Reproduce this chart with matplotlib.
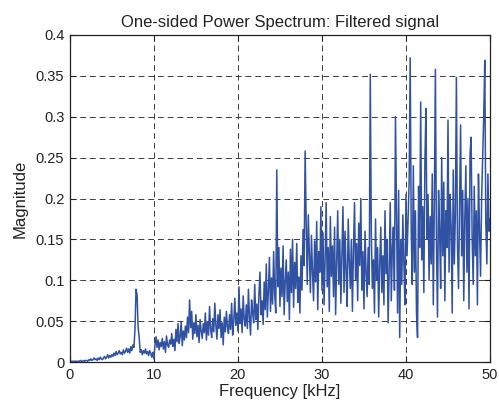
import numpy as np
import matplotlib
matplotlib.use("Agg")
import matplotlib.pyplot as plt

plt.rcParams['font.family'] = ['Liberation Sans', 'DejaVu Sans']

# frequency step (kHz) of the hand-read spectrum, 8 values per kHz
step_khz = 0.125

# magnitude values, one row per kHz
magnitude = [
    0.001, 0.001, 0.001, 0.001, 0.001, 0.001, 0.001, 0.001,
    0.001, 0.001, 0.002, 0.001, 0.001, 0.002, 0.001, 0.002,
    0.002, 0.001, 0.003, 0.002, 0.004, 0.002, 0.003, 0.005,
    0.003, 0.004, 0.002, 0.005, 0.003, 0.006, 0.004, 0.003,
    0.005, 0.007, 0.004, 0.006, 0.009, 0.005, 0.008, 0.006,
    0.009, 0.007, 0.011, 0.008, 0.013, 0.009, 0.011, 0.014,
    0.010, 0.012, 0.009, 0.015, 0.011, 0.013, 0.017, 0.012,
    0.016, 0.011, 0.019, 0.014, 0.021, 0.018, 0.040, 0.089,
    0.082, 0.042, 0.030, 0.012, 0.015, 0.009, 0.014, 0.011,
    0.016, 0.010, 0.013, 0.008, 0.014, 0.011, 0.006, 0.012,
    0.004, 0.020, 0.031, 0.018, 0.027, 0.015, 0.024, 0.019,
    0.029, 0.016, 0.025, 0.012, 0.032, 0.021, 0.018, 0.027,
    0.022, 0.035, 0.019, 0.028, 0.014, 0.040, 0.025, 0.047,
    0.023, 0.031, 0.049, 0.020, 0.038, 0.027, 0.044, 0.030,
    0.055, 0.036, 0.076, 0.042, 0.062, 0.028, 0.048, 0.035,
    0.058, 0.031, 0.045, 0.024, 0.052, 0.038, 0.029, 0.047,
    0.036, 0.060, 0.027, 0.049, 0.033, 0.068, 0.040, 0.030,
    0.053, 0.037, 0.072, 0.045, 0.028, 0.058, 0.041, 0.064,
    0.030, 0.048, 0.021, 0.055, 0.037, 0.062, 0.043, 0.035,
    0.058, 0.040, 0.072, 0.033, 0.050, 0.078, 0.045, 0.060,
    0.038, 0.092, 0.047, 0.065, 0.036, 0.081, 0.052, 0.044,
    0.070, 0.041, 0.089, 0.055, 0.033, 0.076, 0.060, 0.048,
    0.095, 0.052, 0.071, 0.040, 0.083, 0.110, 0.058, 0.075,
    0.046, 0.098, 0.064, 0.120, 0.055, 0.087, 0.128, 0.062,
    0.103, 0.071, 0.135, 0.084, 0.060, 0.235, 0.092, 0.140,
    0.068, 0.115, 0.080, 0.142, 0.058, 0.097, 0.125, 0.074,
    0.110, 0.052, 0.138, 0.085, 0.150, 0.067, 0.122, 0.090,
    0.145, 0.073, 0.104, 0.060, 0.130, 0.088, 0.162, 0.118,
    0.258, 0.170, 0.095, 0.180, 0.132, 0.085, 0.155, 0.110,
    0.075, 0.148, 0.098, 0.172, 0.064, 0.135, 0.110, 0.190,
    0.088, 0.158, 0.070, 0.125, 0.195, 0.092, 0.140, 0.062,
    0.178, 0.105, 0.142, 0.080, 0.165, 0.058, 0.120, 0.185,
    0.095, 0.150, 0.072, 0.132, 0.190, 0.085, 0.160, 0.110,
    0.068, 0.175, 0.125, 0.090, 0.150, 0.062, 0.138, 0.195,
    0.100, 0.145, 0.075, 0.170, 0.118, 0.200, 0.088, 0.135,
    0.065, 0.160, 0.110, 0.080, 0.140, 0.095, 0.352, 0.155,
    0.090, 0.125, 0.060, 0.175, 0.100, 0.140, 0.055, 0.120,
    0.165, 0.085, 0.130, 0.070, 0.185, 0.108, 0.150, 0.048,
    0.112, 0.195, 0.075, 0.140, 0.165, 0.088, 0.300, 0.180,
    0.060, 0.210, 0.030, 0.150, 0.095, 0.180, 0.120, 0.070,
    0.205, 0.130, 0.175, 0.220, 0.372, 0.160, 0.095, 0.240,
    0.110, 0.185, 0.060, 0.030, 0.215, 0.140, 0.318, 0.125,
    0.190, 0.085, 0.245, 0.310, 0.150, 0.205, 0.100, 0.178,
    0.120, 0.230, 0.070, 0.195, 0.358, 0.145, 0.055, 0.210,
    0.160, 0.090, 0.250, 0.130, 0.220, 0.075, 0.185, 0.140,
    0.296, 0.110, 0.205, 0.165, 0.060, 0.235, 0.120, 0.180,
    0.348, 0.145, 0.090, 0.195, 0.290, 0.130, 0.210, 0.075,
    0.175, 0.240, 0.110, 0.200, 0.065, 0.255, 0.275, 0.150,
    0.095, 0.215, 0.130, 0.185, 0.070, 0.230, 0.160, 0.105,
    0.200, 0.250, 0.300, 0.369, 0.170, 0.120, 0.230, 0.160,
    0.175,
]

freq_khz = np.arange(len(magnitude)) * step_khz

x_ticks = [0, 10, 20, 30, 40, 50]
y_ticks = [0, 0.05, 0.1, 0.15, 0.2, 0.25, 0.3, 0.35, 0.4]
y_tick_labels = ['0', '0.05', '0.1', '0.15', '0.2', '0.25', '0.3', '0.35', '0.4']

fig = plt.figure(figsize=(4.99, 4.11), dpi=100)
ax = fig.add_axes([0.140, 0.119, 0.842, 0.796])

ax.plot(freq_khz, magnitude, color='#3152a3', linewidth=1.1)

ax.set_xlim(0, 50)
ax.set_ylim(0, 0.4)
ax.set_xticks(x_ticks)
ax.set_yticks(y_ticks)
ax.set_yticklabels(y_tick_labels)
ax.tick_params(direction='in', top=True, right=True, length=4, labelsize=10.5,
               pad=4, colors='#222222')
ax.grid(True, color='#3a3a3a', linestyle=(0, (6, 4)), linewidth=0.7)
for s in ax.spines.values():
    s.set_linewidth(0.9)
    s.set_color('#222222')

ax.set_title('One-sided Power Spectrum: Filtered signal', fontsize=12, pad=6,
             color='#222222')
ax.set_xlabel('Frequency [kHz]', fontsize=12, labelpad=2, color='#222222')
ax.set_ylabel('Magnitude', fontsize=12, labelpad=6, color='#222222')

fig.savefig('out.png', dpi=100)
